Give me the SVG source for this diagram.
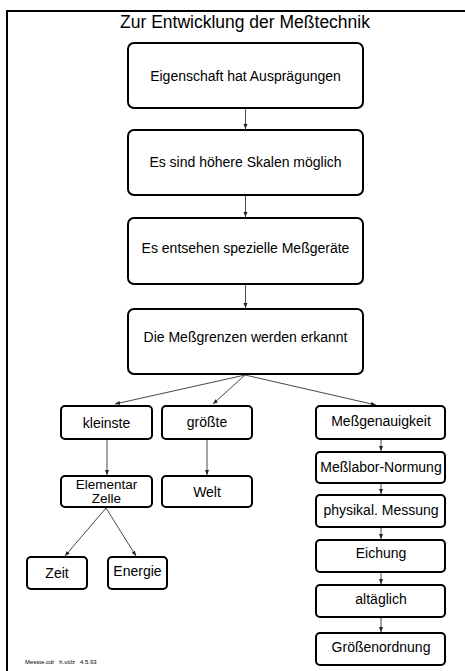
<svg xmlns="http://www.w3.org/2000/svg" width="465" height="671" viewBox="0 0 465 671">
  <style>
    .box { fill: #fff; stroke: #000; stroke-width: 2; }
    .lbl { font-family: "Liberation Sans", Arial, sans-serif; font-size: 14px; fill: #000; text-anchor: middle; }
    .lbl2 { font-family: "Liberation Sans", Arial, sans-serif; font-size: 13.5px; fill: #000; text-anchor: middle; }
    .title { font-family: "Liberation Sans", Arial, sans-serif; font-size: 17.5px; fill: #000; text-anchor: middle; }
    .foot { font-family: "Liberation Sans", Arial, sans-serif; font-size: 6px; fill: #000; }
    .conn line { stroke: #333; stroke-width: 0.9; marker-end: url(#arr); }
  </style>
  <defs>
    <marker id="arr" viewBox="0 0 10 10" refX="10" refY="5" markerWidth="5" markerHeight="5" orient="auto" markerUnits="userSpaceOnUse">
      <path d="M0,1 L10,5 L0,9 Z" fill="#222"/>
    </marker>
  </defs>
  <rect width="465" height="671" fill="#fff"/>
  <!-- page frame -->
  <path d="M7,672 V11 H466" fill="none" stroke="#000" stroke-width="2"/>
  <text class="title" x="245" y="28">Zur Entwicklung der Meßtechnik</text>

  <g class="conn">
    <line x1="245.5" y1="109" x2="245.5" y2="129"/>
    <line x1="245.5" y1="196" x2="245.5" y2="217"/>
    <line x1="245.5" y1="285" x2="245.5" y2="308"/>
    <line x1="245" y1="375" x2="115" y2="404"/>
    <line x1="245" y1="375" x2="213" y2="404"/>
    <line x1="245" y1="375" x2="376" y2="405"/>
    <line x1="107" y1="440" x2="107" y2="475"/>
    <line x1="207" y1="440" x2="207" y2="475"/>
    <line x1="106" y1="508" x2="65" y2="556"/>
    <line x1="106" y1="508" x2="136" y2="556"/>
    <line x1="381" y1="440" x2="381" y2="451"/>
    <line x1="381" y1="484" x2="381" y2="494"/>
    <line x1="381" y1="528" x2="381" y2="539"/>
    <line x1="381" y1="573" x2="381" y2="584"/>
    <line x1="381" y1="618" x2="381" y2="632"/>
  </g>

  <g id="n1"><rect class="box" x="128" y="43" width="235" height="65" rx="6"/><text class="lbl" x="245.5" y="81">Eigenschaft hat Ausprägungen</text></g>
  <g id="n2"><rect class="box" x="128" y="130" width="235" height="65" rx="6"/><text class="lbl" x="245.5" y="167">Es sind höhere Skalen möglich</text></g>
  <g id="n3"><rect class="box" x="128" y="218" width="235" height="66" rx="6"/><text class="lbl" x="245.5" y="253">Es entsehen spezielle Meßgeräte</text></g>
  <g id="n4"><rect class="box" x="128" y="309" width="235" height="65" rx="6"/><text class="lbl" x="245.5" y="342">Die Meßgrenzen werden erkannt</text></g>

  <g id="kleinste"><rect class="box" x="61" y="406" width="91" height="33" rx="4"/><text class="lbl" x="106.5" y="428">kleinste</text></g>
  <g id="groesste"><rect class="box" x="162" y="406" width="90" height="33" rx="4"/><text class="lbl" x="207" y="427">größte</text></g>
  <g id="elementar"><rect class="box" x="61" y="476" width="91" height="31" rx="4"/><text class="lbl2" x="106.5" y="489">Elementar</text><text class="lbl2" x="106.5" y="503">Zelle</text></g>
  <g id="welt"><rect class="box" x="162" y="476" width="90" height="31" rx="4"/><text class="lbl" x="207" y="497">Welt</text></g>
  <g id="zeit"><rect class="box" x="27" y="557" width="60" height="32" rx="4"/><text class="lbl" x="57" y="578">Zeit</text></g>
  <g id="energie"><rect class="box" x="108" y="557" width="59" height="32" rx="4"/><text class="lbl" x="137.5" y="576">Energie</text></g>

  <g id="genauigkeit"><rect class="box" x="316" y="406" width="129" height="33" rx="4"/><text class="lbl" x="381" y="426">Meßgenauigkeit</text></g>
  <g id="normung"><rect class="box" x="316" y="452" width="129" height="31" rx="4"/><text class="lbl" x="381" y="472">Meßlabor-Normung</text></g>
  <g id="messung"><rect class="box" x="316" y="495" width="129" height="32" rx="4"/><text class="lbl" x="381" y="515">physikal. Messung</text></g>
  <g id="eichung"><rect class="box" x="316" y="540" width="129" height="32" rx="4"/><text class="lbl" x="381" y="558">Eichung</text></g>
  <g id="alltag"><rect class="box" x="316" y="585" width="129" height="32" rx="4"/><text class="lbl" x="381" y="604">altäglich</text></g>
  <g id="ordnung"><rect class="box" x="316" y="633" width="129" height="32" rx="4"/><text class="lbl" x="381" y="652">Größenordnung</text></g>

  <text class="foot" x="25" y="664" xml:space="preserve">Messte.cdr   h.völz   4.5.93</text>
</svg>
